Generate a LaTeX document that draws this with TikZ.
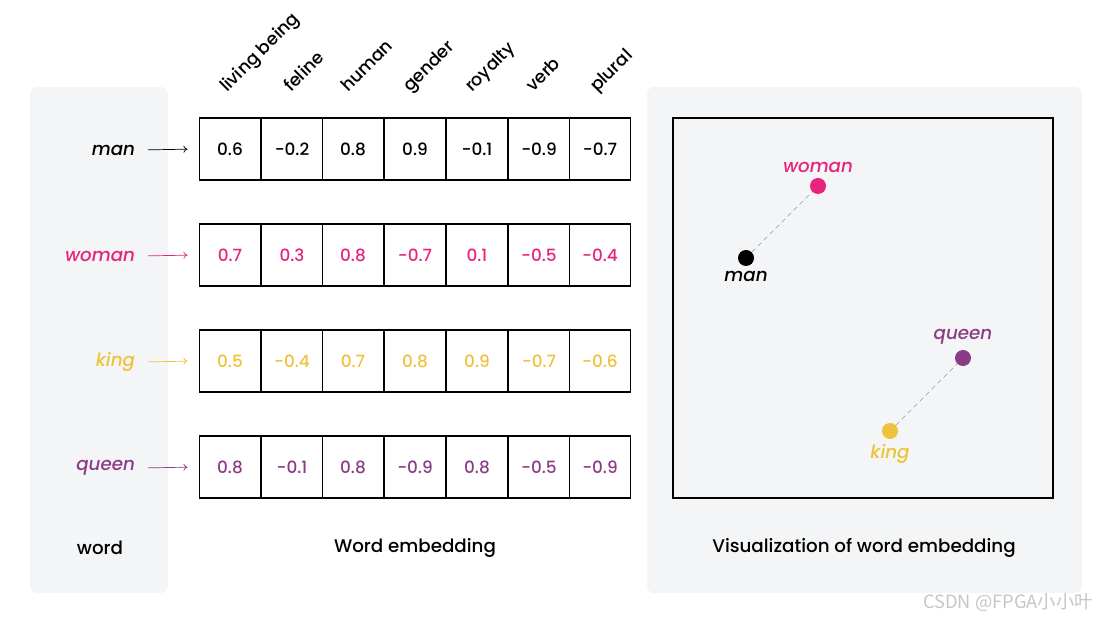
\documentclass[tikz,border=0pt]{standalone}
\usepackage{fontspec}
\setmainfont{Poppins}[UprightFont={* Medium}, ItalicFont={* Medium Italic}]
\newfontfamily\cjkfont{Noto Sans CJK SC}
\usetikzlibrary{positioning,arrows.meta}
\definecolor{panelgray}{RGB}{244,245,247}
\definecolor{womanpink}{RGB}{232,35,125}
\definecolor{kingyellow}{RGB}{238,194,58}
\definecolor{queenpurple}{RGB}{140,60,132}
\tikzset{
  cell/.style={draw, line width=0.8pt, minimum width=1.543cm, minimum height=1.55cm, inner sep=0pt, font=\fontsize{12}{14}\selectfont},
  wordlabel/.style={anchor=east, font=\fontsize{13}{15}\selectfont\itshape},
  feature/.style={anchor=base west, rotate=45, inner sep=0pt, font=\fontsize{12.5}{14}\selectfont},
  caption/.style={font=\fontsize{13}{15}\selectfont},
  plotlabel/.style={font=\fontsize{13}{15}\selectfont\itshape},
  wordarrow/.style={-{To[length=3pt,width=5pt]}, line width=0.5pt, shorten <=5.7pt, shorten >=7.8pt},
  dot/.style={circle, fill, inner sep=0pt, minimum size=0.4cm},
  pair/.style={gray!80, line width=0.4pt, dash pattern=on 3.5pt off 2.5pt}
}
\begin{document}
\begin{tikzpicture}[x=0.025cm, y=-0.025cm]
		\useasboundingbox (0,0) rectangle (1112,622);
		% panels
		\fill [panelgray, rounded corners=5pt] (30,87) rectangle (168,593);
		\fill [panelgray, rounded corners=5pt] (647,87) rectangle (1082,593);
		\draw [line width=0.8pt] (673,118) rectangle (1053,498);
		% feature names
		\node [feature] (f1) at (227,93) {living being};
		\node [feature] (f2) at (291,93) {feline};
		\node [feature] (f3) at (348,93) {human};
		\node [feature] (f4) at (410,93) {gender};
		\node [feature] (f5) at (472,93) {royalty};
		\node [feature] (f6) at (533,93) {verb};
		\node [feature] (f7) at (597,93) {plural};
		% man
		\node [wordlabel] (man) at (140,150) {man};
		\node [cell] (m1) at (230,149) {0.6};
		\node [cell] (m2) at (292,149) {-0.2};
		\node [cell] (m3) at (353,149) {0.8};
		\node [cell] (m4) at (415,149) {0.9};
		\node [cell] (m5) at (477,149) {-0.1};
		\node [cell] (m6) at (539,149) {-0.9};
		\node [cell] (m7) at (600,149) {-0.7};
		% woman
		\node [wordlabel, womanpink] (woman) at (140,256) {woman};
		\node [cell, text=womanpink] (w1) at (230,255) {0.7};
		\node [cell, text=womanpink] (w2) at (292,255) {0.3};
		\node [cell, text=womanpink] (w3) at (353,255) {0.8};
		\node [cell, text=womanpink] (w4) at (415,255) {-0.7};
		\node [cell, text=womanpink] (w5) at (477,255) {0.1};
		\node [cell, text=womanpink] (w6) at (539,255) {-0.5};
		\node [cell, text=womanpink] (w7) at (600,255) {-0.4};
		% king
		\node [wordlabel, kingyellow] (king) at (140,362) {king};
		\node [cell, text=kingyellow] (k1) at (230,361) {0.5};
		\node [cell, text=kingyellow] (k2) at (292,361) {-0.4};
		\node [cell, text=kingyellow] (k3) at (353,361) {0.7};
		\node [cell, text=kingyellow] (k4) at (415,361) {0.8};
		\node [cell, text=kingyellow] (k5) at (477,361) {0.9};
		\node [cell, text=kingyellow] (k6) at (539,361) {-0.7};
		\node [cell, text=kingyellow] (k7) at (600,361) {-0.6};
		% queen
		\node [wordlabel, queenpurple] (queen) at (140,468) {queen};
		\node [cell, text=queenpurple] (q1) at (230,467) {0.8};
		\node [cell, text=queenpurple] (q2) at (292,467) {-0.1};
		\node [cell, text=queenpurple] (q3) at (353,467) {0.8};
		\node [cell, text=queenpurple] (q4) at (415,467) {-0.9};
		\node [cell, text=queenpurple] (q5) at (477,467) {0.8};
		\node [cell, text=queenpurple] (q6) at (539,467) {-0.5};
		\node [cell, text=queenpurple] (q7) at (600,467) {-0.9};
		% arrows
		\draw [wordarrow] (man.east) -- (m1.west);
		\draw [wordarrow, womanpink] (woman.east) -- (w1.west);
		\draw [wordarrow, kingyellow] (king.east) -- (k1.west);
		\draw [wordarrow, queenpurple] (queen.east) -- (q1.west);
		% plot
		\node [dot, black] (pman) at (746,258) {};
		\node [dot, womanpink] (pwoman) at (818,186) {};
		\node [dot, queenpurple] (pqueen) at (963,358) {};
		\node [dot, kingyellow] (pking) at (890,431) {};
		\draw [pair] (pman) -- (pwoman);
		\draw [pair] (pking) -- (pqueen);
		\node [plotlabel, below=0pt of pman] (lman) {man};
		\node [plotlabel, womanpink, above=0pt of pwoman] (lwoman) {woman};
		\node [plotlabel, queenpurple, above=0pt of pqueen] (lqueen) {queen};
		\node [plotlabel, kingyellow, below=0pt of pking] (lking) {king};
		% captions
		\node [caption] (cword) at (100,548) {word};
		\node [caption] (cembed) at (415,548) {Word embedding};
		\node [caption] (cvis) at (864,548) {Visualization of word embedding};
		\node [gray!45, font=\fontsize{13}{15}\selectfont\cjkfont] (mark) at (1008,603) {CSDN @FPGA小小叶};
\end{tikzpicture}
\end{document}
